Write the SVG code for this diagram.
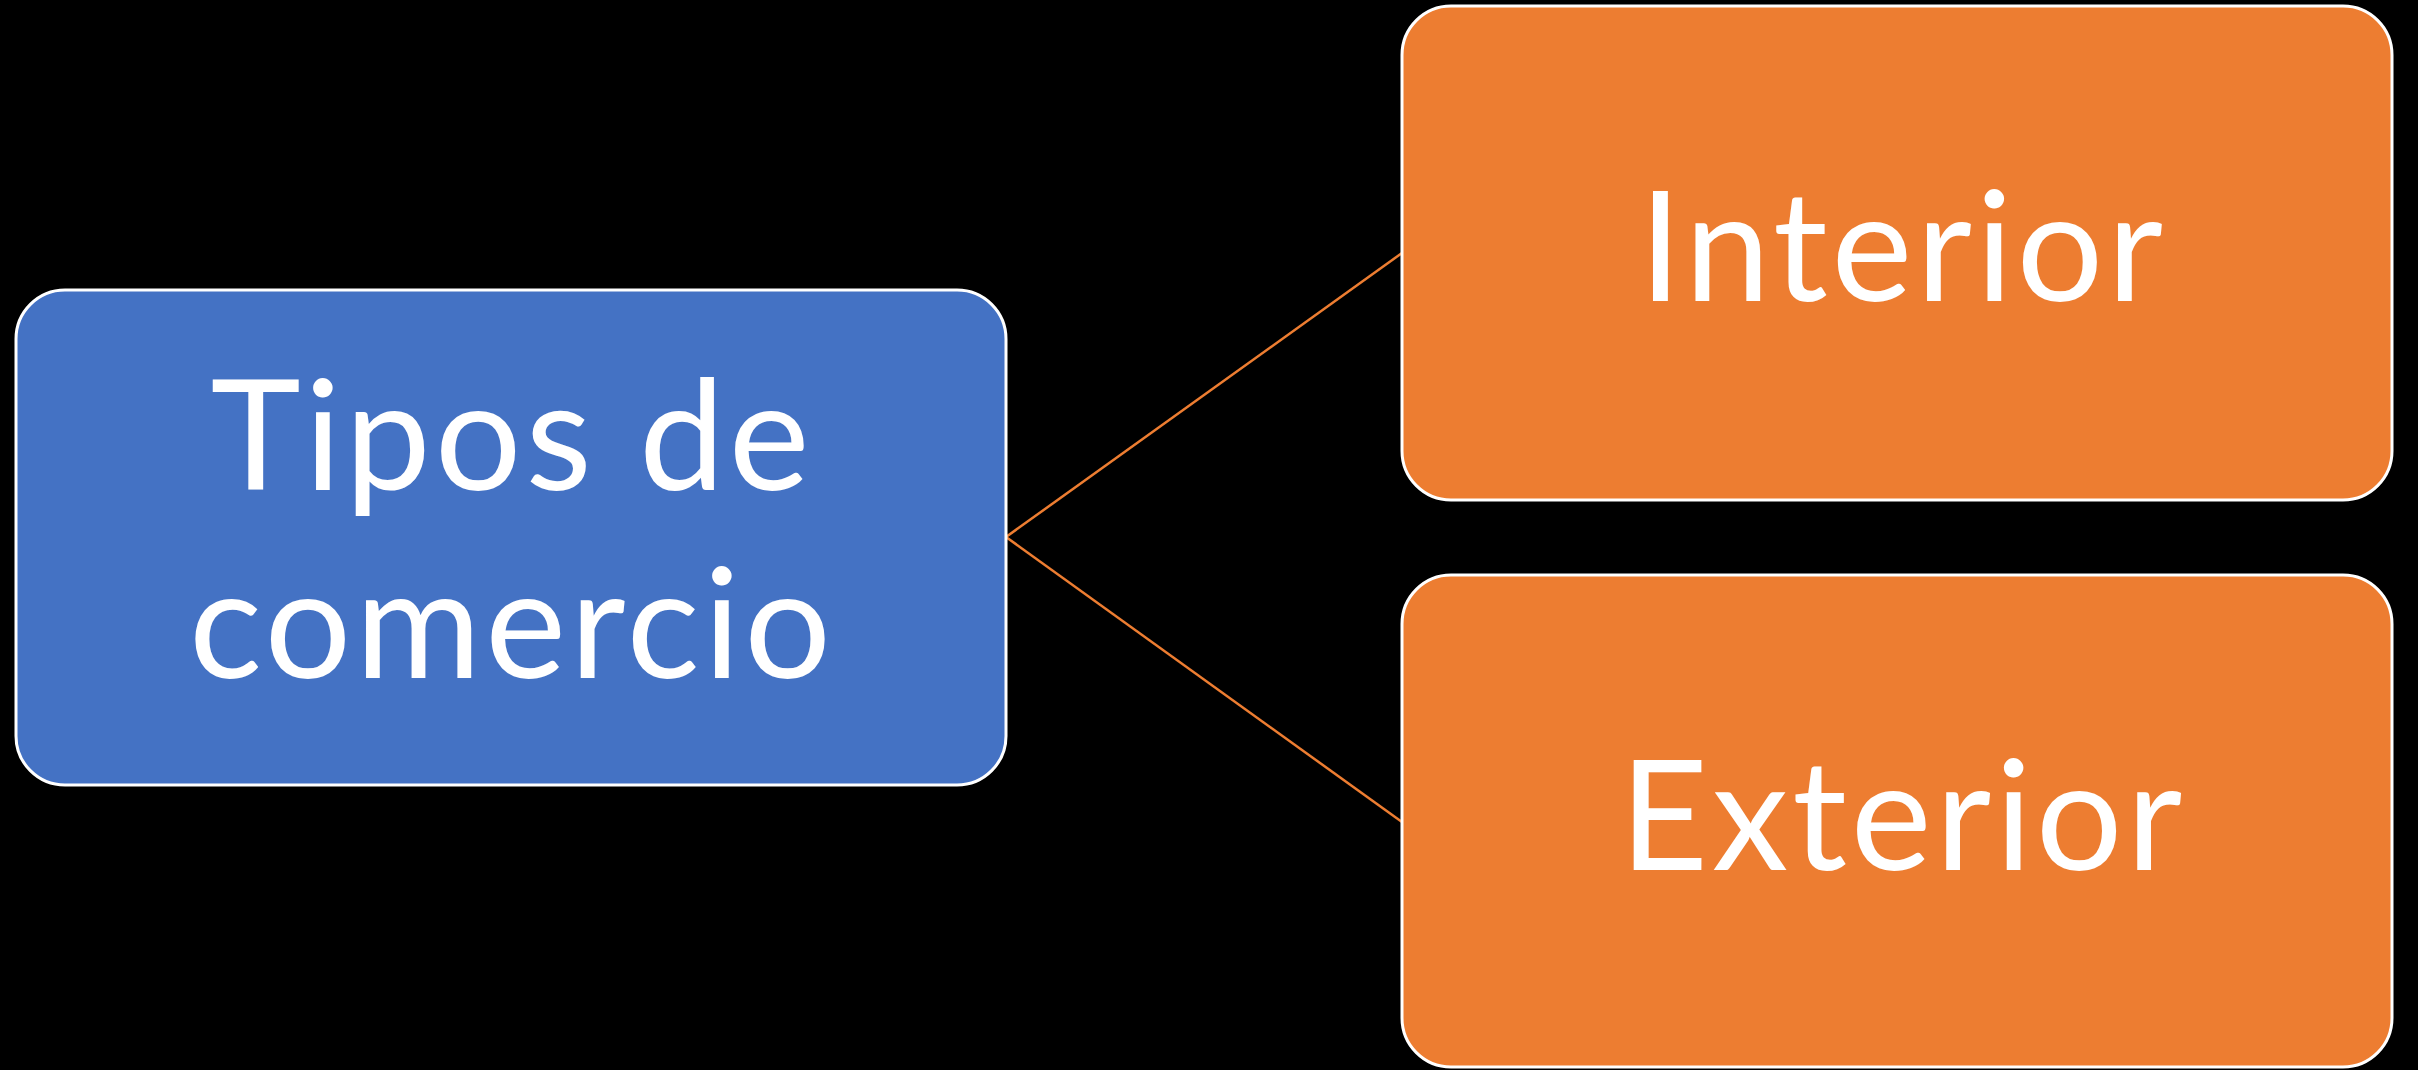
<svg xmlns="http://www.w3.org/2000/svg" width="2418" height="1070" viewBox="0 0 2418 1070">
<style>
.box{stroke:#ffffff;stroke-width:3}
.blue{fill:#4472C4}
.orange{fill:#ED7D31}
.lbl{font-family:Lato,"Liberation Sans",sans-serif;font-size:153px;letter-spacing:4px;fill:#ffffff;text-anchor:middle}
.conn{stroke:#ED7D31;stroke-width:2.5;fill:none}
</style>
<rect x="0" y="0" width="2418" height="1070" fill="#000000"/>
<g id="connectors">
<line class="conn" x1="1006" y1="537" x2="1402" y2="253"/>
<line class="conn" x1="1006" y1="537" x2="1402" y2="822"/>
</g>
<g id="node-tipos">
<rect class="box blue" x="16" y="290" width="990" height="495" rx="49" ry="49"/>
<text class="lbl" x="512" y="490">Tipos de</text>
<text class="lbl" x="512" y="678">comercio</text>
</g>
<g id="node-interior">
<rect class="box orange" x="1402" y="6" width="990" height="494" rx="49" ry="49"/>
<text class="lbl" x="1903" y="301">Interior</text>
</g>
<g id="node-exterior">
<rect class="box orange" x="1402" y="575" width="990" height="492" rx="49" ry="49"/>
<text class="lbl" x="1903" y="870">Exterior</text>
</g>
</svg>
